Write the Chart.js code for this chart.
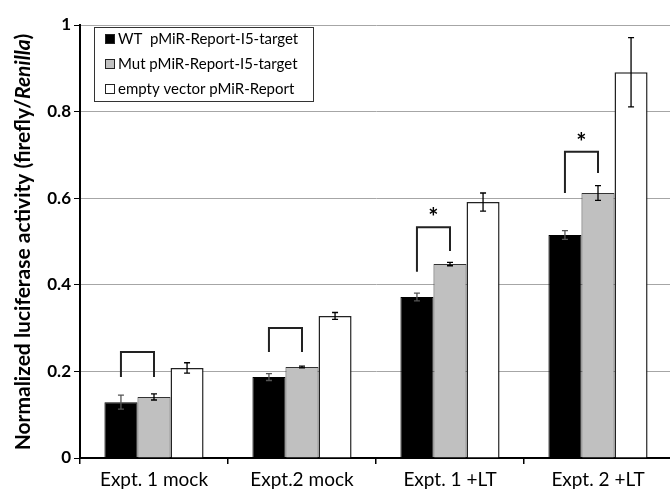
<!DOCTYPE html>
<html>
<head>
<meta charset="utf-8">
<script src="https://cdn.jsdelivr.net/npm/chart.js@4"></script>
<style>
  html, body { margin: 0; padding: 0; background: #fff; overflow: hidden; }
  #wrap { width: 690px; height: 490px; }
</style>
</head>
<body>
<div id="wrap"><canvas id="c" width="690" height="490"></canvas></div>
<script>
// Luciferase reporter assay: normalized firefly/Renilla ratios per condition
const categories = ['Expt. 1 mock', 'Expt.2 mock', 'Expt. 1 +LT', 'Expt. 2 +LT'];
const seriesLabels = ['WT  pMiR-Report-I5-target', 'Mut pMiR-Report-I5-target', 'empty vector pMiR-Report'];

const wtValues    = [0.129, 0.187, 0.372, 0.515];
const wtErrors    = [0.016, 0.008, 0.009, 0.010];
const mutValues   = [0.141, 0.210, 0.448, 0.612];
const mutErrors   = [0.007, 0.002, 0.004, 0.017];
const emptyValues = [0.208, 0.328, 0.591, 0.891];
const emptyErrors = [0.012, 0.008, 0.021, 0.080];

const yTicks = [0, 0.2, 0.4, 0.6, 0.8, 1];

// WT vs Mut comparison brackets (value units) and significance marks
const bracketTop      = [0.245, 0.300, 0.533, 0.707];
const bracketLeftEnd  = [0.187, 0.245, 0.430, 0.612];
const bracketRightEnd = [0.187, 0.245, 0.478, 0.658];
const significance    = ['', '', '*', '*'];

const FONT = 'Lato, "Open Sans", "DejaVu Sans", sans-serif';

const errorSets = [wtErrors, mutErrors, emptyErrors];

const errorBarPlugin = {
  id: 'errorBars',
  afterDatasetsDraw(chart) {
    const ctx = chart.ctx, y = chart.scales.y;
    ctx.save();
    ctx.lineWidth = 1.3;
    chart.data.datasets.forEach((ds, di) => {
      const meta = chart.getDatasetMeta(di);
      meta.data.forEach((bar, i) => {
        const v = ds.data[i], e = errorSets[di][i];
        const yHi = y.getPixelForValue(v + e), yLo = y.getPixelForValue(v - e);
        const cx = bar.x, cap = 3;
        ctx.strokeStyle = di === 0 ? '#555' : '#000';
        ctx.beginPath();
        ctx.moveTo(cx, yHi); ctx.lineTo(cx, yLo);
        ctx.moveTo(cx - cap, yHi); ctx.lineTo(cx + cap, yHi);
        ctx.moveTo(cx - cap, yLo); ctx.lineTo(cx + cap, yLo);
        ctx.stroke();
      });
    });
    ctx.restore();
  }
};

const bracketPlugin = {
  id: 'brackets',
  afterDatasetsDraw(chart) {
    const ctx = chart.ctx, y = chart.scales.y;
    const wt = chart.getDatasetMeta(0).data, mut = chart.getDatasetMeta(1).data;
    ctx.save();
    ctx.strokeStyle = '#222';
    ctx.lineWidth = 2;
    categories.forEach((c, i) => {
      const xl = wt[i].x, xr = mut[i].x;
      const yt = y.getPixelForValue(bracketTop[i]);
      ctx.beginPath();
      ctx.moveTo(xl, y.getPixelForValue(bracketLeftEnd[i]));
      ctx.lineTo(xl, yt);
      ctx.lineTo(xr, yt);
      ctx.lineTo(xr, y.getPixelForValue(bracketRightEnd[i]));
      ctx.stroke();
      if (significance[i]) {
        ctx.fillStyle = '#000';
        ctx.font = 'bold 24px ' + FONT;
        ctx.textAlign = 'center';
        ctx.textBaseline = 'middle';
        ctx.fillText(significance[i], (xl + xr) / 2, yt - 9);
      }
    });
    ctx.restore();
  }
};

const legendBoxPlugin = {
  id: 'legendBox',
  afterDraw(chart) {
    const ctx = chart.ctx;
    const bx = 94, by = 27, bw = 219, bh = 74;
    ctx.save();
    ctx.fillStyle = '#fff';
    ctx.fillRect(bx, by, bw, bh);
    ctx.strokeStyle = '#333';
    ctx.lineWidth = 1;
    ctx.strokeRect(bx + 0.5, by + 0.5, bw, bh);
    ctx.font = '15px ' + FONT;
    ctx.textBaseline = 'middle';
    ctx.textAlign = 'left';
    chart.data.datasets.forEach((ds, i) => {
      const cy = by + 12 + i * 25;
      ctx.fillStyle = ds.backgroundColor;
      ctx.fillRect(bx + 11, cy - 5, 10, 10);
      ctx.strokeStyle = '#222';
      ctx.strokeRect(bx + 11.5, cy - 4.5, 9, 9);
      ctx.fillStyle = '#000';
      ctx.fillText(ds.label, bx + 24, cy);
    });
    ctx.restore();
  }
};

const yTitlePlugin = {
  id: 'yTitle',
  afterDraw(chart) {
    const ctx = chart.ctx;
    const size = 21;
    const parts = [
      ['Normalized luciferase activity (firefly/', 'bold ' + size + 'px ' + FONT],
      ['Renilla', 'italic bold ' + size + 'px ' + FONT],
      [')', 'bold ' + size + 'px ' + FONT]
    ];
    ctx.save();
    let total = 0;
    parts.forEach(p => { ctx.font = p[1]; total += ctx.measureText(p[0]).width; });
    ctx.translate(23, 242);
    ctx.rotate(-Math.PI / 2);
    ctx.fillStyle = '#000';
    ctx.textBaseline = 'middle';
    ctx.textAlign = 'left';
    let x = -total / 2;
    parts.forEach(p => {
      ctx.font = p[1];
      ctx.fillText(p[0], x, 0);
      x += ctx.measureText(p[0]).width;
    });
    ctx.restore();
  }
};

new Chart(document.getElementById('c'), {
  type: 'bar',
  data: {
    labels: categories,
    datasets: [
      { label: seriesLabels[0], data: wtValues, backgroundColor: '#000000', borderColor: '#000000', borderWidth: 1 },
      { label: seriesLabels[1], data: mutValues, backgroundColor: '#c0c0c0', borderColor: '#333333', borderWidth: 1 },
      { label: seriesLabels[2], data: emptyValues, backgroundColor: '#ffffff', borderColor: '#222222', borderWidth: 1.5 }
    ]
  },
  options: {
    responsive: false,
    animation: false,
    devicePixelRatio: 1,
    layout: { padding: { top: 25, right: 18, left: 0, bottom: 0 } },
    datasets: { bar: { categoryPercentage: 0.67, barPercentage: 1.0 } },
    plugins: { legend: { display: false }, tooltip: { enabled: false } },
    scales: {
      x: {
        afterFit: s => { s.height = 32; },
        grid: { display: true, drawOnChartArea: false, offset: true, tickLength: 6, tickColor: '#000', lineWidth: 1.5 },
        border: { color: '#000', width: 2 },
        ticks: { color: '#000', font: { family: FONT, size: 19 }, padding: 4 }
      },
      y: {
        min: 0, max: 1,
        afterFit: s => { s.width = 80; },
        afterBuildTicks: s => { s.ticks = yTicks.map(v => ({ value: v })); },
        grid: { color: '#a6a6a6', lineWidth: 1, tickColor: '#000', tickLength: 6 },
        border: { color: '#000', width: 2 },
        ticks: {
          color: '#000', padding: 3,
          font: { family: FONT, size: 17, weight: 'bold' },
          callback: v => String(v)
        }
      }
    }
  },
  plugins: [errorBarPlugin, bracketPlugin, legendBoxPlugin, yTitlePlugin]
});
</script>
</body>
</html>
